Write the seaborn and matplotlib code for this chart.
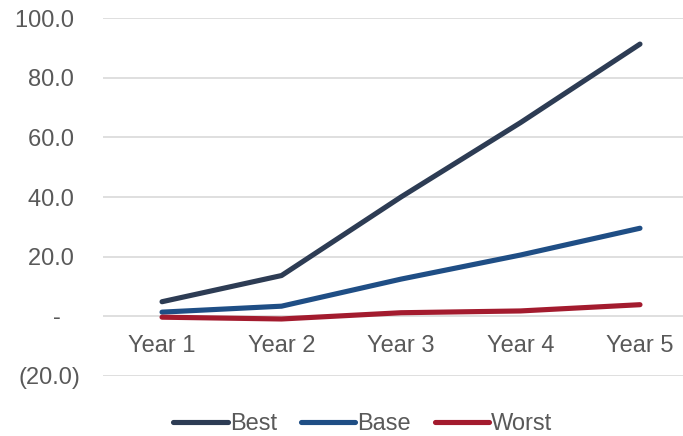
import pandas as pd
import numpy as np
import matplotlib
matplotlib.use("Agg")
import matplotlib.pyplot as plt
import seaborn as sns

# data
years = ["Year 1", "Year 2", "Year 3", "Year 4", "Year 5"]
best = [4.8, 13.6, 40.0, 65.0, 91.4]
base = [1.3, 3.3, 12.4, 20.5, 29.5]
worst = [-0.4, -1.0, 1.1, 1.7, 3.8]
y_ticks = [-20, 0, 20, 40, 60, 80, 100]
y_labels = ["(20.0)", "-   ", "20.0 ", "40.0 ", "60.0 ", "80.0 ", "100.0 "]

df = pd.DataFrame({
    "Year": years * 3,
    "Value": best + base + worst,
    "Scenario": ["Best"] * 5 + ["Base"] * 5 + ["Worst"] * 5,
})

sns.set_style("white")
plt.rcParams['font.family'] = ['Liberation Sans', 'DejaVu Sans']

palette = {"Best": "#2D3C54", "Base": "#1F4E85", "Worst": "#A31B2E"}

fig = plt.figure(figsize=(6.83, 4.36), dpi=100)
ax = fig.add_axes([103 / 683, 1 - 375.5 / 436, 1 - 103 / 683, (375.5 - 18.5) / 436])

sns.lineplot(data=df, x="Year", y="Value", hue="Scenario", palette=palette,
             linewidth=3.7, sort=False, ax=ax, solid_capstyle="round")

ax.set_ylim(-20, 100)
ax.set_xlim(-0.494, 4.36)
ax.set_yticks(y_ticks)
ax.set_yticklabels(y_labels)
ax.grid(axis="y", color="#D9D9D9", linewidth=1.2)
ax.set_axisbelow(True)
for s in ax.spines.values():
    s.set_visible(False)
ax.spines["bottom"].set_position(("data", 0))
ax.tick_params(axis="both", length=0, labelsize=17, labelcolor="#595959")
ax.tick_params(axis="x", pad=14)
ax.tick_params(axis="y", pad=16)
ax.set_xlabel("")
ax.set_ylabel("")

leg = ax.legend(loc="center", ncol=3, frameon=False,
                fontsize=17, handlelength=2.3, handletextpad=0.1, columnspacing=1.0,
                borderpad=0, borderaxespad=0)
leg.set_bbox_to_anchor((363 / 683, 1 - 424 / 436), transform=fig.transFigure)
for t in leg.get_texts():
    t.set_color("#595959")
for h in leg.get_lines():
    h.set_linewidth(3.7)
    h.set_solid_capstyle("round")

fig.savefig("out.png", dpi=100)
